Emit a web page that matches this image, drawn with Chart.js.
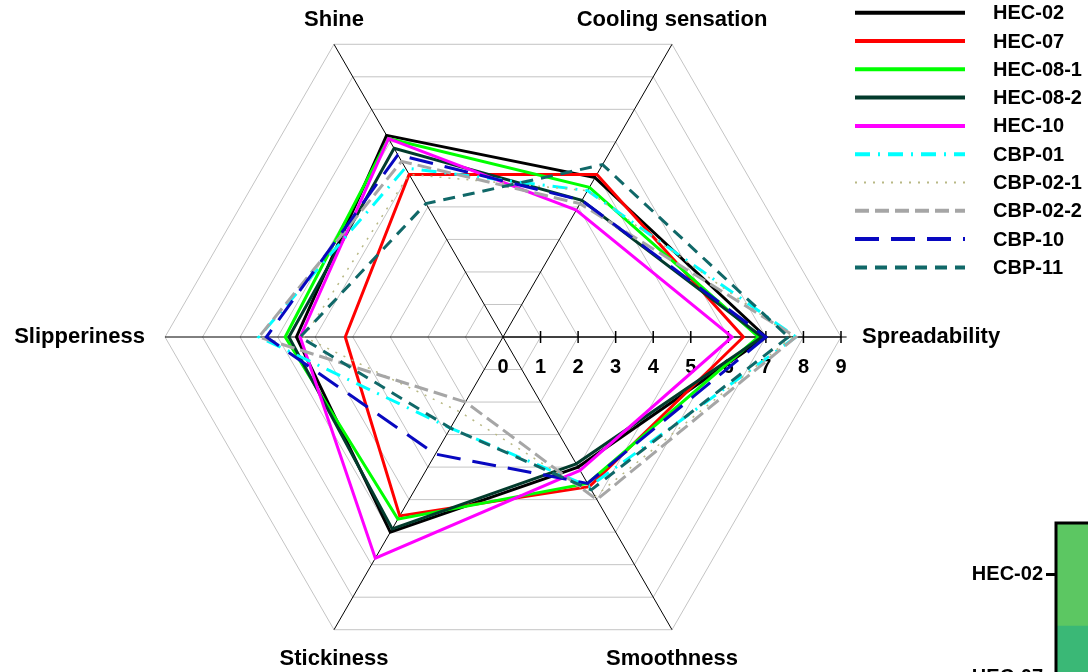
<!DOCTYPE html>
<html>
<head>
<meta charset="utf-8">
<script src="https://cdn.jsdelivr.net/npm/chart.js@4/dist/chart.umd.min.js"></script>
<style>
  html, body { margin: 0; padding: 0; width: 1088px; height: 672px; overflow: hidden; background: #fff; }
  #radar { position: absolute; left: 0; top: 0; }
  #heat { position: absolute; left: 940px; top: 500px; }
</style>
</head>
<body>
<canvas id="radar" width="1088" height="672"></canvas>
<canvas id="heat" width="400" height="229"></canvas>
<script>
// Sensory attributes, listed clockwise starting from the right-hand spoke
const attributes = ['Spreadability', 'Smoothness', 'Stickiness', 'Slipperiness', 'Shine', 'Cooling sensation'];
const tickValues = [0, 1, 2, 3, 4, 5, 6, 7, 8, 9];
const sampleNames = ['HEC-02', 'HEC-07', 'HEC-08-1', 'HEC-08-2', 'HEC-10', 'CBP-01', 'CBP-02-1', 'CBP-02-2', 'CBP-10', 'CBP-11'];

// Panel scores per sample (same order as attributes)
const hec02  = [7.0, 4.0, 6.0, 5.5, 6.2, 4.9];
const hec07  = [6.4, 4.6, 5.5, 4.2, 5.0, 5.0];
const hec081 = [6.8, 4.5, 5.6, 5.8, 6.1, 4.6];
const hec082 = [6.9, 3.9, 5.9, 5.7, 5.8, 4.2];
const hec10  = [6.1, 4.1, 6.8, 5.4, 6.1, 3.9];
const cbp01  = [7.8, 4.6, 2.8, 6.5, 5.2, 4.5];
const cbp021 = [7.7, 4.9, 2.3, 5.3, 5.0, 4.5];
const cbp022 = [7.8, 5.0, 2.0, 6.5, 5.4, 4.1];
const cbp10  = [7.0, 4.5, 3.6, 6.3, 5.6, 4.2];
const cbp11  = [7.6, 4.7, 2.8, 5.4, 4.1, 5.3];

// Heat-map panel rows and their scaled scores (0..1 on the colour ramp)
const heatRows = ['HEC-02', 'HEC-07'];
const heatScores = [0.745, 0.67];

const FONT_FAMILY = '"Liberation Sans", Arial, Helvetica, sans-serif';
const BOLD = '700 20px ' + FONT_FAMILY;
const BOLD_AXIS = '700 22px ' + FONT_FAMILY;

const seriesValues = [hec02, hec07, hec081, hec082, hec10, cbp01, cbp021, cbp022, cbp10, cbp11];
const seriesStyles = [
  { color: '#000000', width: 3, dash: [] },
  { color: '#ff0000', width: 3, dash: [] },
  { color: '#00ff00', width: 3, dash: [] },
  { color: '#023b2c', width: 3, dash: [] },
  { color: '#ff00ff', width: 3, dash: [] },
  { color: '#00ffff', width: 3, dash: [15, 8, 2, 8] },
  { color: '#b8b884', width: 1.5, dash: [2, 7] },
  { color: '#a6a6a6', width: 3, dash: [14, 6] },
  { color: '#0808c0', width: 3, dash: [24, 12] },
  { color: '#106868', width: 3, dash: [12, 8] }
];

const datasets = sampleNames.map((name, i) => ({
  label: name,
  data: seriesValues[i],
  borderColor: seriesStyles[i].color,
  borderWidth: seriesStyles[i].width,
  borderDash: seriesStyles[i].dash,
  backgroundColor: 'transparent',
  fill: false,
  pointRadius: 0,
  pointHoverRadius: 0,
  tension: 0,
  order: -i
}));

// Numbered ticks along the Spreadability spoke (drawn beneath the profiles)
const spokeTicks = {
  id: 'spokeTicks',
  beforeDatasetsDraw(chart) {
    const r = chart.scales.r;
    const ctx = chart.ctx;
    ctx.save();
    ctx.strokeStyle = '#000';
    ctx.lineWidth = 1;
    const start = r.getPointPositionForValue(0, 0);
    const end = r.getPointPositionForValue(0, 9.15);
    ctx.beginPath();
    ctx.moveTo(start.x, start.y);
    ctx.lineTo(end.x, end.y);
    ctx.stroke();
    ctx.lineWidth = 1.5;
    ctx.fillStyle = '#000';
    ctx.font = BOLD;
    ctx.textAlign = 'center';
    ctx.textBaseline = 'middle';
    tickValues.forEach(v => {
      const p = r.getPointPositionForValue(0, v);
      if (v > 0) {
        ctx.beginPath();
        ctx.moveTo(p.x, p.y - 6);
        ctx.lineTo(p.x, p.y + 6);
        ctx.stroke();
      }
      ctx.fillText(String(v), p.x, p.y + 30);
    });
    ctx.restore();
  }
};

// Attribute names at the spoke ends and the line-style key
const radarText = {
  id: 'radarText',
  afterDraw(chart) {
    const r = chart.scales.r;
    const ctx = chart.ctx;
    ctx.save();
    ctx.fillStyle = '#000';
    ctx.font = BOLD_AXIS;
    ctx.textBaseline = 'middle';
    attributes.forEach((name, i) => {
      const p = r.getPointPosition(i, r.drawingArea);
      const dx = p.x - r.xCenter;
      const dy = p.y - r.yCenter;
      if (Math.abs(dy) < 1) {
        ctx.textAlign = dx > 0 ? 'left' : 'right';
        ctx.fillText(name, p.x + (dx > 0 ? 21 : -20), p.y);
      } else {
        ctx.textAlign = 'center';
        ctx.fillText(name, p.x, dy < 0 ? p.y - 24 : p.y + 29);
      }
    });

    // key
    ctx.font = BOLD;
    chart.data.datasets.forEach((ds, i) => {
      const y = 12.7 + i * 28.3;
      ctx.save();
      ctx.strokeStyle = ds.borderColor;
      ctx.lineWidth = ds.borderWidth > 2 ? 4 : 2;
      ctx.setLineDash(ds.borderDash || []);
      ctx.beginPath();
      ctx.moveTo(855, y);
      ctx.lineTo(965, y);
      ctx.stroke();
      ctx.restore();
      ctx.textAlign = 'left';
      ctx.fillText(ds.label, 993, y + 1);
    });
    ctx.restore();
  }
};

new Chart(document.getElementById('radar'), {
  type: 'radar',
  data: { labels: attributes, datasets },
  options: {
    responsive: false,
    animation: false,
    events: [],
    plugins: { legend: { display: false }, tooltip: { enabled: false } },
    elements: { line: { borderJoinStyle: 'miter' } },
    scales: {
      r: {
        min: 0,
        max: 9,
        startAngle: 90,
        beginAtZero: true,
        ticks: { display: false, stepSize: 1 },
        grid: { color: '#c4c4c4', lineWidth: 1 },
        angleLines: { display: true, color: '#000', lineWidth: 1 },
        pointLabels: { display: false },
        afterFit(scale) {
          scale.xCenter = 503;
          scale.yCenter = 337;
          scale.drawingArea = 338;
        }
      }
    }
  },
  plugins: [spokeTicks, radarText]
});

// Colour ramp for the heat-map panel
const rampStops = ['#440154', '#482475', '#414487', '#355f8d', '#2a788e', '#21918c', '#22a884', '#44bf70', '#7ad151', '#bddf26', '#fde725'];
function rampColour(t) {
  const pos = Math.max(0, Math.min(1, t)) * (rampStops.length - 1);
  const i = Math.min(rampStops.length - 2, Math.floor(pos));
  const f = pos - i;
  const a = rampStops[i], b = rampStops[i + 1];
  const ch = (s, k) => parseInt(s.substr(1 + 2 * k, 2), 16);
  const c = [0, 1, 2].map(k => Math.round(ch(a, k) + (ch(b, k) - ch(a, k)) * f));
  return 'rgb(' + c.join(',') + ')';
}

const heatFrame = {
  id: 'heatFrame',
  afterDraw(chart) {
    const a = chart.chartArea;
    const ctx = chart.ctx;
    ctx.save();
    ctx.strokeStyle = '#000';
    ctx.lineWidth = 3;
    ctx.beginPath();
    ctx.moveTo(a.left, a.bottom);
    ctx.lineTo(a.left, a.top);
    ctx.lineTo(a.right, a.top);
    ctx.stroke();
    ctx.restore();
  }
};

new Chart(document.getElementById('heat'), {
  type: 'bar',
  data: {
    labels: heatRows,
    datasets: [{
      data: heatRows.map(() => 1),
      backgroundColor: heatScores.map(rampColour),
      borderWidth: 0,
      barPercentage: 1,
      categoryPercentage: 1
    }]
  },
  options: {
    indexAxis: 'y',
    responsive: false,
    animation: false,
    events: [],
    layout: { padding: { top: 23, right: 0, bottom: 0, left: 0 } },
    plugins: { legend: { display: false }, tooltip: { enabled: false } },
    scales: {
      x: { display: false, min: 0, max: 1 },
      y: {
        offset: true,
        grid: { offset: false, drawOnChartArea: false, color: '#000', lineWidth: 3, tickLength: 10, tickWidth: 3 },
        border: { color: '#000', width: 3 },
        ticks: { color: '#000', font: { family: FONT_FAMILY, size: 20, weight: '700' }, padding: 3 },
        afterFit(scale) {
          scale.width = 116;
          scale.paddingTop = 0;
          scale.paddingBottom = 0;
        }
      }
    }
  },
  plugins: [heatFrame]
});
</script>
</body>
</html>
